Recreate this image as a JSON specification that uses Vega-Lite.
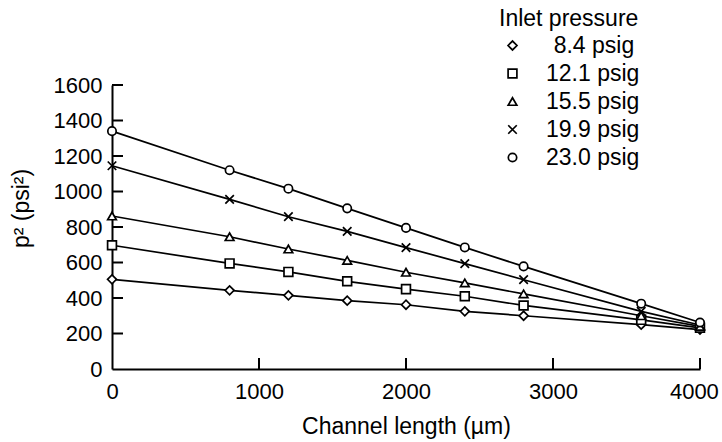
{
  "$schema": "https://vega.github.io/schema/vega-lite/v6.json",
  "width": 588,
  "height": 284,
  "autosize": {"type": "none"},
  "padding": {"left": 112, "top": 85, "right": 22, "bottom": 73},
  "background": "white",
  "config": {
    "view": {"stroke": null},
    "font": "Liberation Sans",
    "axis": {
      "grid": false,
      "ticks": false,
      "domainColor": "black",
      "domainWidth": 2,
      "labelColor": "black",
      "labelFont": "Liberation Sans",
      "labelFontSize": 22,
      "titleColor": "black",
      "titleFont": "Liberation Sans",
      "titleFontSize": 23,
      "titleFontWeight": "normal"
    },
    "legend": {
      "titleFont": "Liberation Sans",
      "titleFontSize": 23,
      "titleFontWeight": "normal",
      "titleColor": "black",
      "labelFont": "Liberation Sans",
      "labelFontSize": 23,
      "labelColor": "black"
    }
  },
  "datasets": {
    "curves": [
      {"series": "8.4 psig", "length": 0, "p2": 505},
      {"series": "8.4 psig", "length": 800, "p2": 443},
      {"series": "8.4 psig", "length": 1200, "p2": 415},
      {"series": "8.4 psig", "length": 1600, "p2": 385},
      {"series": "8.4 psig", "length": 2000, "p2": 362},
      {"series": "8.4 psig", "length": 2400, "p2": 325},
      {"series": "8.4 psig", "length": 2800, "p2": 300},
      {"series": "8.4 psig", "length": 3600, "p2": 250},
      {"series": "8.4 psig", "length": 4000, "p2": 222},
      {"series": "12.1 psig", "length": 0, "p2": 697},
      {"series": "12.1 psig", "length": 800, "p2": 595},
      {"series": "12.1 psig", "length": 1200, "p2": 547},
      {"series": "12.1 psig", "length": 1600, "p2": 494},
      {"series": "12.1 psig", "length": 2000, "p2": 450},
      {"series": "12.1 psig", "length": 2400, "p2": 410},
      {"series": "12.1 psig", "length": 2800, "p2": 358},
      {"series": "12.1 psig", "length": 3600, "p2": 277},
      {"series": "12.1 psig", "length": 4000, "p2": 232},
      {"series": "15.5 psig", "length": 0, "p2": 862},
      {"series": "15.5 psig", "length": 800, "p2": 745},
      {"series": "15.5 psig", "length": 1200, "p2": 676},
      {"series": "15.5 psig", "length": 1600, "p2": 612},
      {"series": "15.5 psig", "length": 2000, "p2": 545},
      {"series": "15.5 psig", "length": 2400, "p2": 485},
      {"series": "15.5 psig", "length": 2800, "p2": 423},
      {"series": "15.5 psig", "length": 3600, "p2": 300},
      {"series": "15.5 psig", "length": 4000, "p2": 240},
      {"series": "19.9 psig", "length": 0, "p2": 1145},
      {"series": "19.9 psig", "length": 800, "p2": 956},
      {"series": "19.9 psig", "length": 1200, "p2": 858},
      {"series": "19.9 psig", "length": 1600, "p2": 775},
      {"series": "19.9 psig", "length": 2000, "p2": 684},
      {"series": "19.9 psig", "length": 2400, "p2": 594},
      {"series": "19.9 psig", "length": 2800, "p2": 503},
      {"series": "19.9 psig", "length": 3600, "p2": 325},
      {"series": "19.9 psig", "length": 4000, "p2": 248},
      {"series": "23.0 psig", "length": 0, "p2": 1340},
      {"series": "23.0 psig", "length": 800, "p2": 1120},
      {"series": "23.0 psig", "length": 1200, "p2": 1016},
      {"series": "23.0 psig", "length": 1600, "p2": 905},
      {"series": "23.0 psig", "length": 2000, "p2": 795},
      {"series": "23.0 psig", "length": 2400, "p2": 685},
      {"series": "23.0 psig", "length": 2800, "p2": 578},
      {"series": "23.0 psig", "length": 3600, "p2": 368},
      {"series": "23.0 psig", "length": 4000, "p2": 262}
    ],
    "xticks": [
      {"length": 1000, "p2": 0, "p2_end": 62},
      {"length": 2000, "p2": 0, "p2_end": 62},
      {"length": 3000, "p2": 0, "p2_end": 62},
      {"length": 4000, "p2": 0, "p2_end": 62}
    ],
    "yticks": [
      {"p2": 200, "length": 0, "length_end": 75},
      {"p2": 400, "length": 0, "length_end": 75},
      {"p2": 600, "length": 0, "length_end": 75},
      {"p2": 800, "length": 0, "length_end": 75},
      {"p2": 1000, "length": 0, "length_end": 75},
      {"p2": 1200, "length": 0, "length_end": 75},
      {"p2": 1400, "length": 0, "length_end": 75},
      {"p2": 1600, "length": 0, "length_end": 75}
    ]
  },
  "encoding": {
    "x": {
      "field": "length",
      "type": "quantitative",
      "scale": {"domain": [0, 4000], "nice": false, "zero": false},
      "axis": {
        "title": "Channel length (µm)",
        "values": [0, 1000, 2000, 3000, 4000],
        "format": "d",
        "labelExpr": "datum.value == 4000 ? datum.label + '\\u2007\\u200b' : datum.label",
        "labelPadding": 12,
        "titlePadding": 13,
        "labelFlush": false,
        "labelOverlap": false
      }
    },
    "y": {
      "field": "p2",
      "type": "quantitative",
      "scale": {"domain": [0, 1600], "nice": false},
      "axis": {
        "title": "p² (psi²)",
        "values": [0, 200, 400, 600, 800, 1000, 1200, 1400, 1600],
        "format": "d",
        "labelPadding": 10,
        "titlePadding": 20,
        "titleY": 123,
        "labelOverlap": false
      }
    }
  },
  "layer": [
    {
      "data": {"name": "xticks"},
      "mark": {"type": "rule", "stroke": "black", "strokeWidth": 2},
      "encoding": {"y2": {"field": "p2_end"}}
    },
    {
      "data": {"name": "yticks"},
      "mark": {"type": "rule", "stroke": "black", "strokeWidth": 2},
      "encoding": {"x2": {"field": "length_end"}}
    },
    {
      "data": {"name": "curves"},
      "mark": {"type": "line", "color": "black", "strokeWidth": 1.7},
      "encoding": {"detail": {"field": "series", "type": "nominal"}}
    },
    {
      "data": {"name": "curves"},
      "mark": {"type": "point", "filled": true, "fill": "white", "stroke": "black", "strokeWidth": 1.7, "opacity": 1},
      "encoding": {
        "shape": {
          "field": "series",
          "type": "nominal",
          "scale": {
            "domain": ["8.4 psig", "12.1 psig", "15.5 psig", "19.9 psig", "23.0 psig"],
            "range": ["diamond", "square", "triangle-up", "M-1,-1L1,1M1,-1L-1,1", "circle"]
          },
          "legend": {
            "title": "Inlet pressure",
            "orient": "none",
            "legendX": 387,
            "legendY": -77,
            "padding": 0,
            "symbolFillColor": "white",
            "symbolStrokeColor": "black",
            "symbolStrokeWidth": 1.7,
            "symbolOffset": 2,
            "labelOffset": 22,
            "rowPadding": 4,
            "titlePadding": 3,
            "labelExpr": "datum.label == '8.4 psig' ? '\\u200b\\u2004' + datum.label : datum.label"
          }
        },
        "size": {
          "field": "series",
          "type": "nominal",
          "scale": {
            "domain": ["8.4 psig", "12.1 psig", "15.5 psig", "19.9 psig", "23.0 psig"],
            "range": [80, 70, 75, 90, 110]
          },
          "legend": {"title": "Inlet pressure"}
        }
      }
    }
  ]
}
